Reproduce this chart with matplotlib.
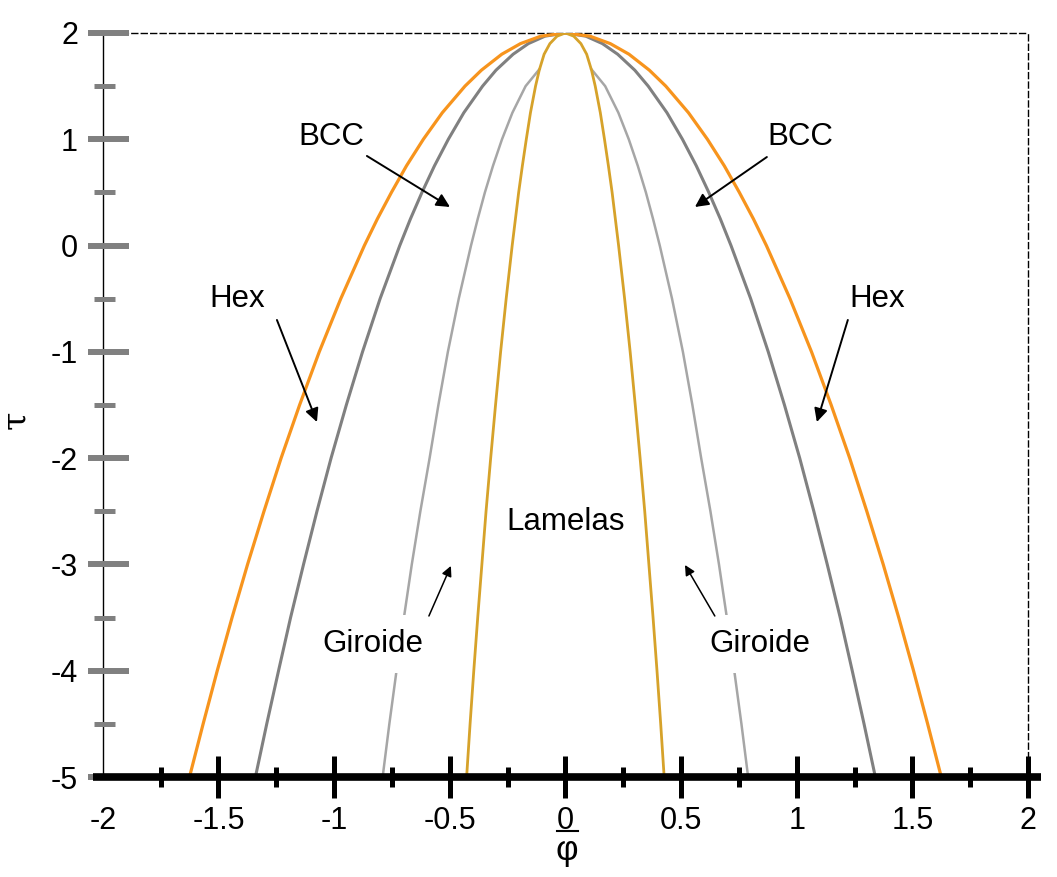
import numpy as np
import matplotlib
matplotlib.use("Agg")
import matplotlib.pyplot as plt

plt.rcParams['font.family'] = ['Liberation Sans', 'DejaVu Sans']

# tau levels at which the phase boundaries were read (curves are symmetric in phi)
tau_levels = [2.0, 1.97, 1.9, 1.8, 1.65, 1.5, 1.25, 1.0, 0.75, 0.5, 0.25, 0.0,
              -0.5, -1.0, -1.5, -2.0, -2.5, -3.0, -3.5, -4.0, -4.5, -5.0]
hex_phi = [0.0, 0.106, 0.194, 0.275, 0.363, 0.434, 0.532, 0.614, 0.687, 0.752, 0.813,
           0.869, 0.971, 1.064, 1.149, 1.229, 1.303, 1.374, 1.441, 1.505, 1.566, 1.625]
bcc_phi = [0.0, 0.088, 0.160, 0.226, 0.300, 0.358, 0.439, 0.506, 0.566, 0.620, 0.670,
           0.716, 0.801, 0.877, 0.947, 1.013, 1.074, 1.132, 1.188, 1.240, 1.291, 1.340]
lam_phi = [0.0, 0.036, 0.067, 0.092, 0.113, 0.129, 0.151, 0.169, 0.186, 0.202, 0.216,
           0.230, 0.256, 0.280, 0.302, 0.323, 0.343, 0.361, 0.379, 0.396, 0.412, 0.427]

# gyroid boundary starts where it meets the lamellar line
gyr_tau = [1.66, 1.5, 1.25, 1.0, 0.75, 0.5, 0.25, 0.0, -0.5, -1.0, -1.5, -2.0,
           -2.5, -3.0, -3.5, -4.0, -4.5, -5.0]
gyr_phi = [0.112, 0.172, 0.229, 0.274, 0.313, 0.348, 0.379, 0.408, 0.461, 0.508,
           0.549, 0.587, 0.627, 0.664, 0.698, 0.730, 0.761, 0.790]

x_ticks = [-2, -1.5, -1, -0.5, 0, 0.5, 1, 1.5, 2]
x_labels = ['-2', '-1.5', '-1', '-0.5', '0', '0.5', '1', '1.5', '2']
x_minor = [-1.75, -1.25, -0.75, -0.25, 0.25, 0.75, 1.25, 1.75]
y_ticks = [2, 1, 0, -1, -2, -3, -4, -5]
y_labels = ['2', '1', '0', '-1', '-2', '-3', '-4', '-5']
y_minor = [1.5, 0.5, -0.5, -1.5, -2.5, -3.5, -4.5]


def both_sides(phi, tau):
    phi = np.asarray(phi)
    tau = np.asarray(tau)
    return (np.concatenate([-phi[::-1], phi[1:]]),
            np.concatenate([tau[::-1], tau[1:]]))


fig = plt.figure(figsize=(10.57, 8.77), dpi=100)
ax = fig.add_axes([0.0972, 0.1140, 0.8754, 0.8484])

x, y = both_sides(bcc_phi, tau_levels)
ax.plot(x, y, color='#808080', lw=2.2, zorder=2)
gp = np.asarray(gyr_phi)
ax.plot(-gp, gyr_tau, color='#a6a6a6', lw=1.8, zorder=2)
ax.plot(gp, gyr_tau, color='#a6a6a6', lw=1.8, zorder=2)
x, y = both_sides(hex_phi, tau_levels)
ax.plot(x, y, color='#f7941d', lw=2.3, zorder=3)
x, y = both_sides(lam_phi, tau_levels)
ax.plot(x, y, color='#d6a22a', lw=2.0, zorder=3)

# region labels and arrows
label_kw = dict(fontsize=22.5, ha='center', va='baseline', zorder=5)
box = dict(facecolor='white', edgecolor='none', boxstyle='square,pad=0.45')
ax.text(-1.014, 0.946, 'BCC', **label_kw)
ax.text(1.014, 0.946, 'BCC', **label_kw)
ax.text(-1.420, -0.578, 'Hex', **label_kw)
ax.text(1.347, -0.578, 'Hex', **label_kw)
ax.text(-0.832, -3.823, 'Giroide', bbox=box, **label_kw)
ax.text(0.841, -3.823, 'Giroide', bbox=box, **label_kw)
ax.text(0.002, -2.676, 'Lamelas', **label_kw)

arrows = [((-0.858, 0.843), (-0.499, 0.363), 20, 1.4),
          ((0.871, 0.833), (0.560, 0.363), 20, 1.4),
          ((-1.247, -0.700), (-1.074, -1.660), 20, 1.4),
          ((1.221, -0.700), (1.087, -1.660), 20, 1.4),
          ((-0.590, -3.485), (-0.495, -3.014), 15, 1.1),
          ((0.646, -3.485), (0.517, -3.005), 15, 1.1)]
for start, tip, ms, lw in arrows:
    ax.annotate('', xy=tip, xytext=start, zorder=6,
                arrowprops=dict(arrowstyle='-|>', color='black', lw=lw,
                                mutation_scale=ms, shrinkA=0, shrinkB=0))

# axes styling
ax.spines['left'].set_linewidth(1.0)
ax.spines['bottom'].set_visible(False)
for side in ['top', 'right']:
    ax.spines[side].set_linestyle((0, (4.3, 2.5)))
    ax.spines[side].set_linewidth(1.0)

ax.set_xticks(x_ticks)
ax.set_xticklabels(x_labels, fontsize=22)
ax.set_xticks(x_minor, minor=True)
ax.tick_params(axis='x', which='major', direction='inout', length=30, width=3.6,
               color='black', pad=6)
ax.tick_params(axis='x', which='minor', direction='inout', length=14.5, width=3.6,
               color='black')
ax.xaxis.get_major_ticks()[0].tick1line.set_visible(False)
ax.axhline(-5, xmin=-0.0105, xmax=1.0135, color='black', lw=5.5, clip_on=False,
           zorder=6, solid_capstyle='butt')

ax.set_yticks(y_ticks)
ax.set_yticklabels(y_labels, fontsize=22)
ax.tick_params(axis='y', which='both', length=0, pad=17.8)
ax.hlines(y_ticks, -0.0159, 0.0284, transform=ax.get_yaxis_transform(),
          colors='#808080', lw=4.3, clip_on=False, zorder=4)
ax.hlines(y_minor, -0.0094, 0.0134, transform=ax.get_yaxis_transform(),
          colors='#808080', lw=3.6, clip_on=False, zorder=4)

ax.set_ylabel('τ', fontsize=24, family='DejaVu Serif')
ax.yaxis.set_label_coords(-0.076, 0.48)

# phi with an overbar, drawn as a glyph plus a short bar
ax.set_xlabel('φ', fontsize=25)
ax.xaxis.set_label_coords(0.5018, -0.076)
fig.add_artist(plt.Line2D([0.5265, 0.5468], [0.0520, 0.0520], color='black', lw=1.5))

ax.set_xlim(-2, 2)
ax.set_ylim(-5, 2)

fig.savefig('out.png', dpi=100)
